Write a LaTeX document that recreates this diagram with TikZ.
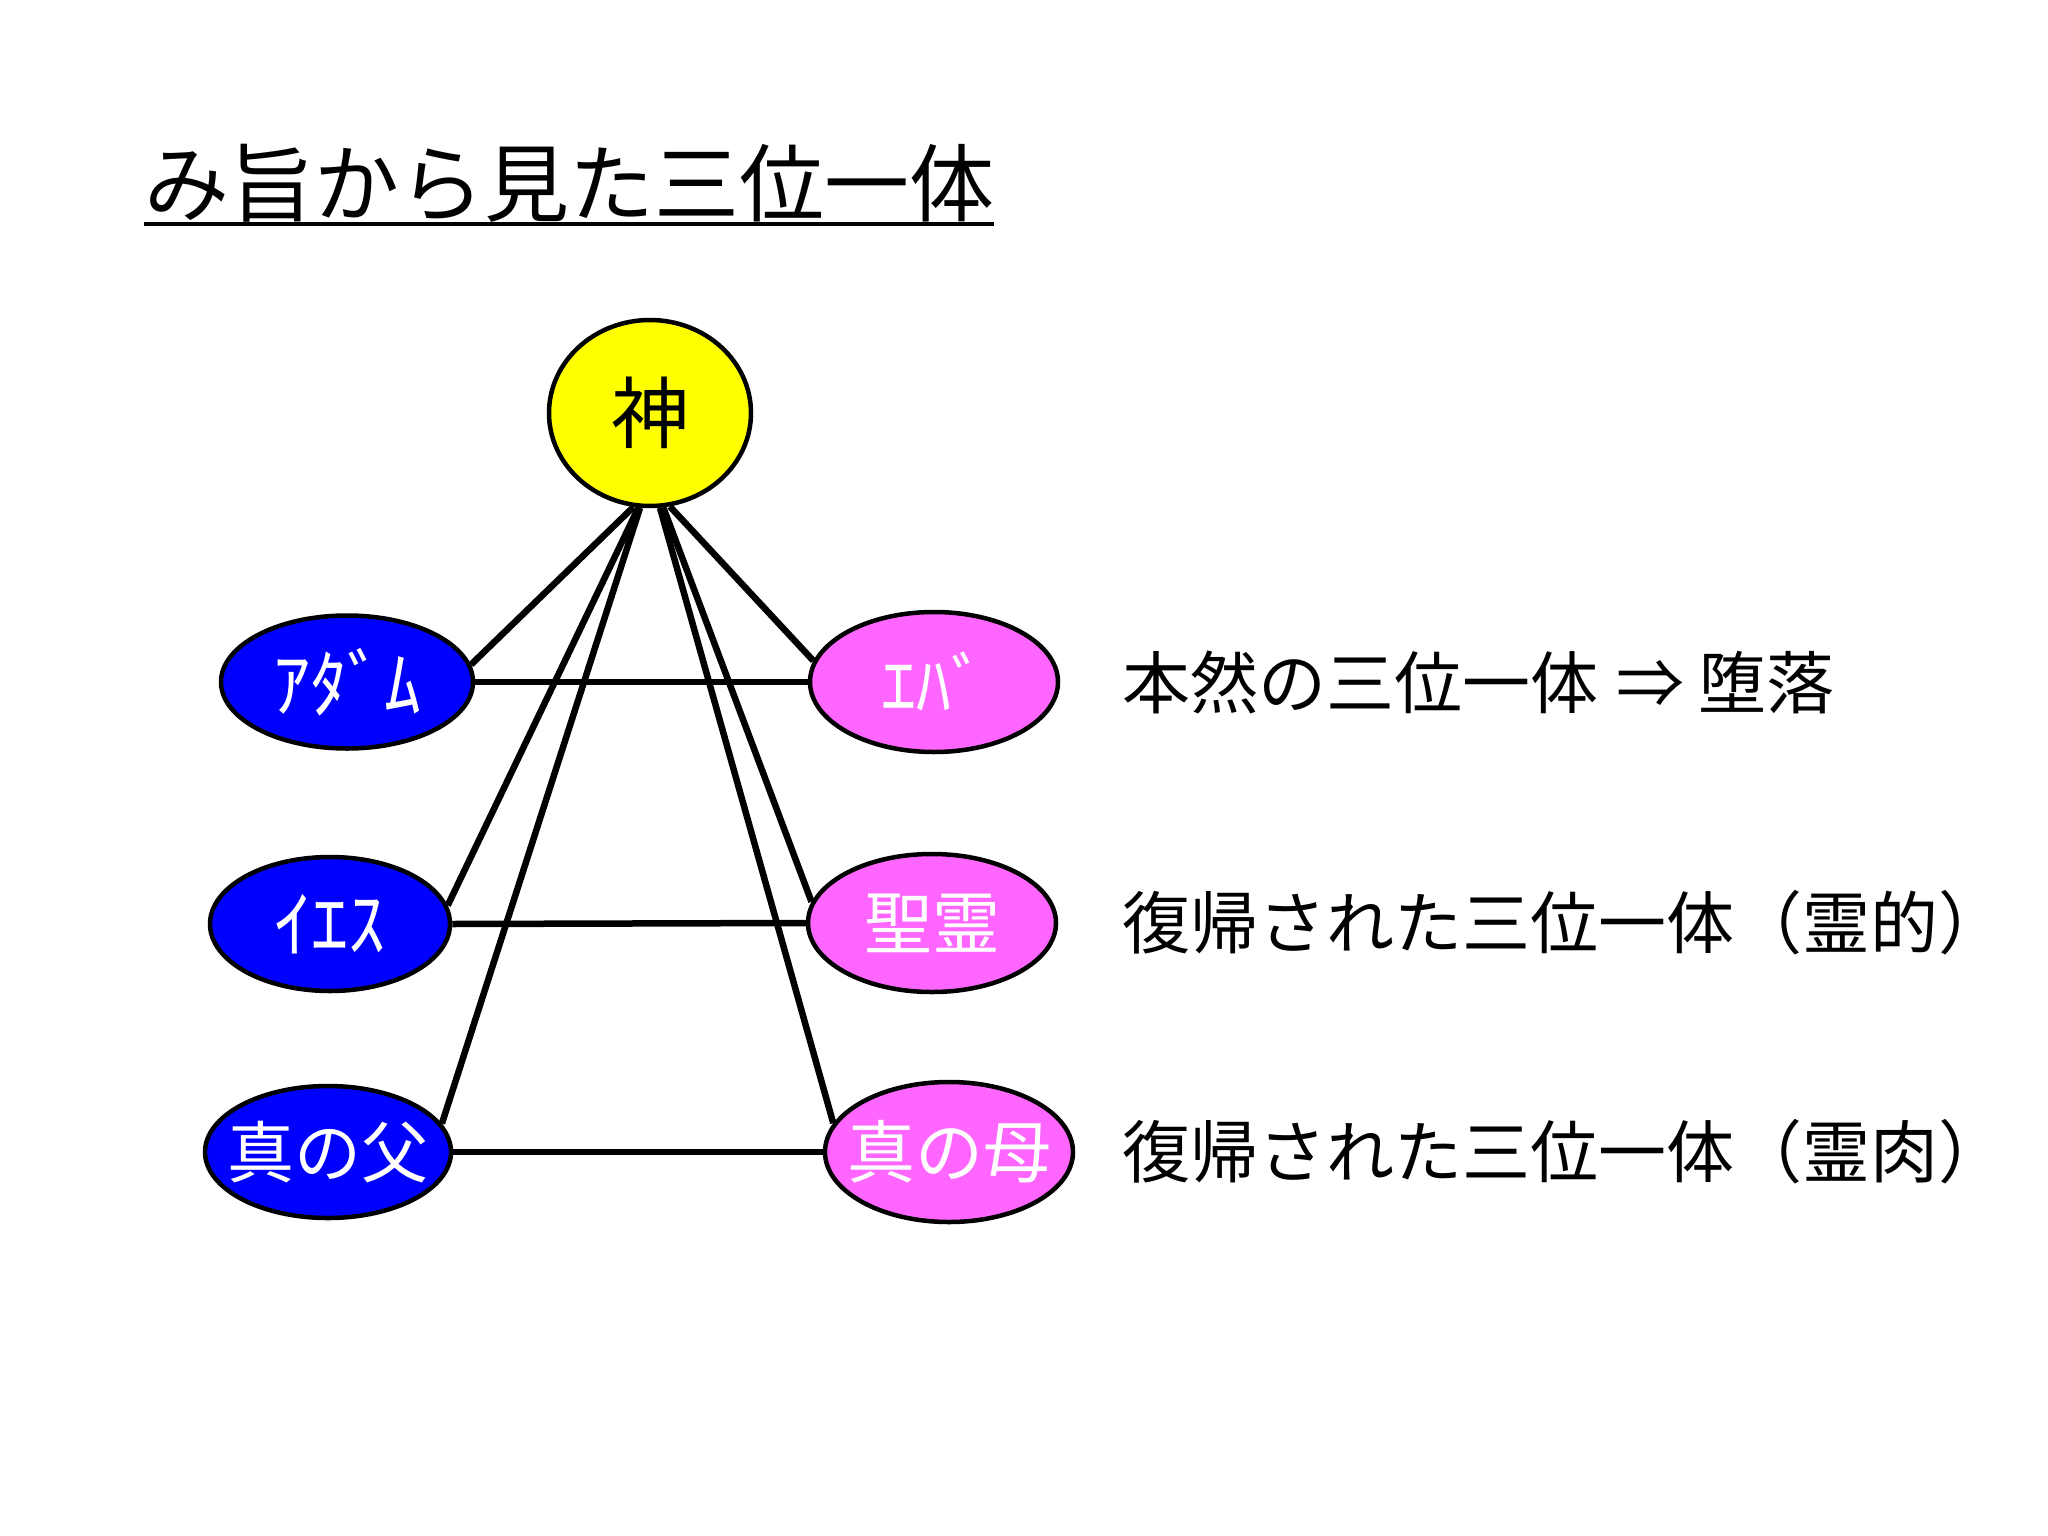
\documentclass[tikz,border=0pt]{standalone}
\usepackage{fontspec}
\newfontfamily\jp{Noto Sans CJK JP}
\usetikzlibrary{shapes.geometric,calc}
\definecolor{nodeblue}{HTML}{0000FF}
\definecolor{nodepink}{HTML}{FF66FF}
\definecolor{nodeyellow}{HTML}{FFFF00}
\newcommand{\nodetext}[1]{\makebox[0pt]{#1}}
\begin{document}
\begin{tikzpicture}[x=1pt,y=-1pt,
  person/.style={ellipse,draw=black,line width=4.5pt,inner sep=0pt,text=white,
    font=\jp\fontsize{67}{67}\selectfont},
  bluenode/.style={person,fill=nodeblue},
  pinknode/.style={person,fill=nodepink},
  link/.style={line width=6.5pt,black},
  caption/.style={anchor=west,inner sep=0pt,text=black,font=\jp\fontsize{68}{68}\selectfont}
]
\fill[white] (0,0) rectangle (2048,1536);
\useasboundingbox (0,0) rectangle (2048,1536);

% title
\node[anchor=base west,inner sep=0pt,font=\jp\fontsize{85}{85}\selectfont] (title) at (144,215) {み旨から見た三位一体};
\draw[line width=4pt] ($(title.base west)+(0,9)$) -- ($(title.base east)+(0,9)$);

% nodes
\node[person,fill=nodeyellow,text=black,minimum width=202pt,minimum height=186pt,
  font=\jp\fontsize{78}{78}\selectfont] (god) at (650,413) {\nodetext{神}};

\node[bluenode,minimum width=252pt,minimum height=133pt,font=\jp\fontsize{74}{74}\selectfont] (adam) at (347,682) {\nodetext{ｱﾀﾞﾑ}};
\node[pinknode,minimum width=248pt,minimum height=140pt,font=\jp\fontsize{70}{70}\selectfont] (eve) at (934,682) {\nodetext{ｴﾊﾞ}};
\node[bluenode,minimum width=240pt,minimum height=134pt,font=\jp\fontsize{74}{74}\selectfont] (jesus) at (330,924) {\nodetext{ｲｴｽ}};
\node[pinknode,minimum width=248pt,minimum height=138pt,font=\jp\fontsize{68}{68}\selectfont] (spirit) at (932,923) {\nodetext{聖霊}};
\node[bluenode,minimum width=246pt,minimum height=132pt] (father) at (328,1152) {\nodetext{真の父}};
\node[pinknode,minimum width=248pt,minimum height=140pt,font=\jp\fontsize{68}{68}\selectfont] (mother) at (949,1152) {\nodetext{真の母}};

% connectors from God
\draw[link] (god.-100.7) -- (adam.8.6);
\draw[link] (god.-78) -- (eve.170.7);
\draw[link] (god.-97.8) -- (jesus.9);
\draw[link] (god.-96) -- (father.14.2);
\draw[link] (god.-82.2) -- (spirit.170.8);
\draw[link] (god.-84) -- (mother.166.3);

% horizontal connectors
\draw[link] (adam.east) -- (eve.west);
\draw[link] (jesus.east) -- (spirit.west);
\draw[link] (father.east) -- (mother.west);

% captions
\node[caption] (c1) at (1122,682) {本然の三位一体\hspace{18pt}⇒\hspace{14pt}堕落};
\node[caption] (c2) at (1122,923) {復帰された三位一体（霊的）};
\node[caption] (c3) at (1122,1152) {復帰された三位一体（霊肉）};
\end{tikzpicture}
\end{document}
